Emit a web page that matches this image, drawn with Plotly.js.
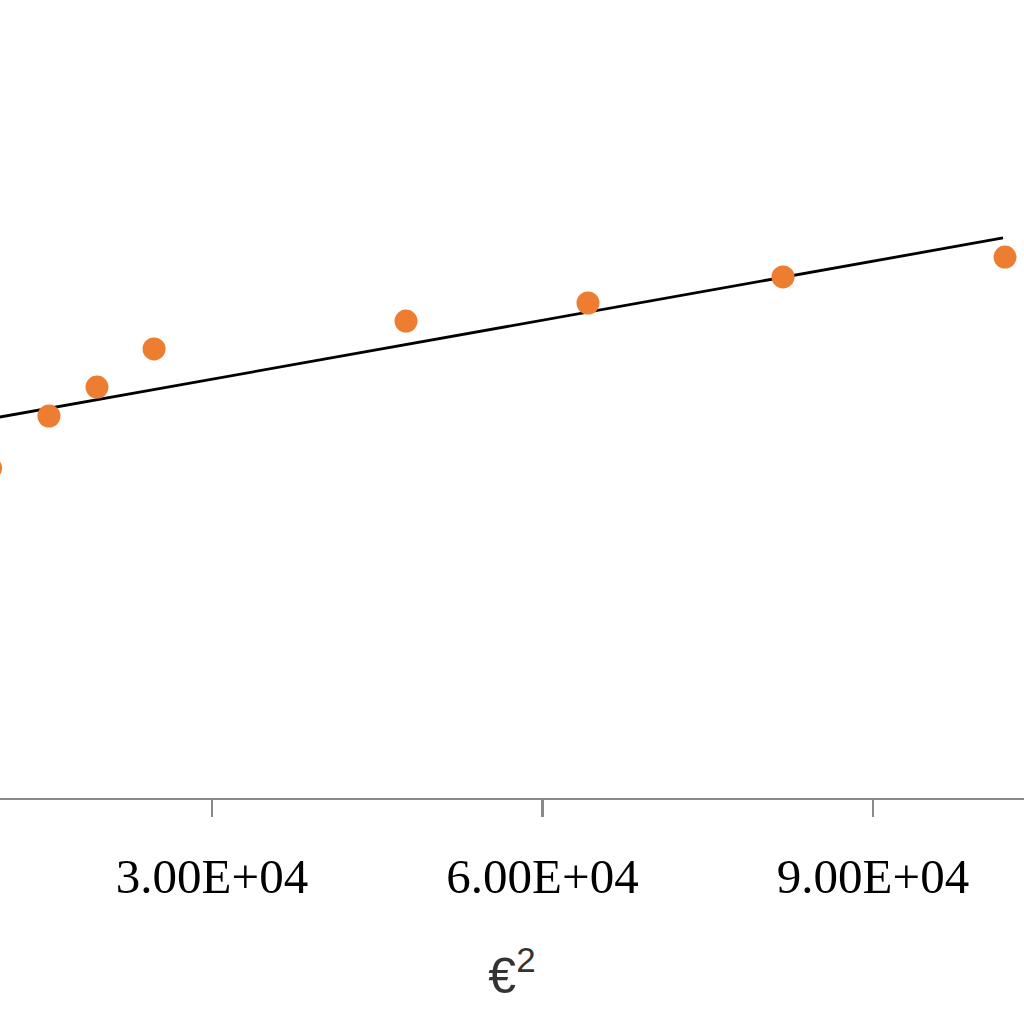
<!DOCTYPE html>
<html>
<head>
<meta charset="utf-8">
<script src="https://cdn.plot.ly/plotly-3.0.1.min.js"></script>
<style>html,body{margin:0;padding:0;background:#fff;}#chart{width:1024px;height:1024px;}</style>
</head>
<body>
<div id="chart"></div>
<script>
// Data (y has no visible axis; arbitrary units)
const epsSquared = [9900, 15200, 19560, 24740, 47610, 64130, 81830, 101980];
const yValues    = [41.35, 47.87, 51.50, 56.27, 59.77, 62.03, 65.29, 67.79];
const trendX = [9900, 101800];
const trendY = [47.53, 70.18];
const tickValues = [30000, 60000, 90000];
const tickLabels = ["3.00E+04", "6.00E+04", "9.00E+04"];
const xTitle = "€<sup>2</sup>";

const traces = [
  {
    x: trendX, y: trendY, type: "scatter", mode: "lines",
    line: {color: "#000000", width: 2.8}, hoverinfo: "skip", showlegend: false
  },
  {
    x: epsSquared, y: yValues, type: "scatter", mode: "markers",
    marker: {color: "#ED7D31", size: 23}, showlegend: false
  }
];

const layout = {
  width: 1024, height: 1024,
  margin: {l: 0, r: 0, t: 0, b: 226, pad: 0},
  paper_bgcolor: "#ffffff", plot_bgcolor: "#ffffff",
  showlegend: false,
  font: {family: "Liberation Sans"},
  xaxis: {
    range: [10757, 103705],
    showgrid: false, zeroline: false,
    showline: true, linecolor: "#898989", linewidth: 2.2,
    ticks: "outside", ticklen: 17, tickwidth: 2.2, tickcolor: "#898989",
    tickvals: tickValues, ticktext: tickLabels,
    ticklabelstandoff: 17,
    tickfont: {family: "Liberation Serif", size: 49, color: "#000000"},
    title: {text: xTitle, font: {family: "Liberation Sans", size: 50, color: "#333333"}, standoff: 55}
  },
  yaxis: {
    range: [0, 100], visible: false, showgrid: false, zeroline: false
  }
};

Plotly.newPlot("chart", traces, layout, {staticPlot: true, displayModeBar: false});
</script>
</body>
</html>
